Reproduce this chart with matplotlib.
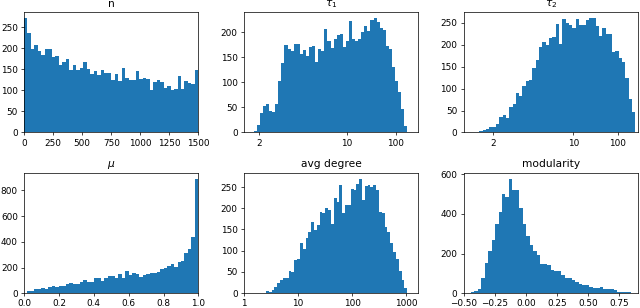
import numpy as np
import matplotlib
matplotlib.use("Agg")
from matplotlib import pyplot as plt
from matplotlib.ticker import NullLocator

# bin counts (50 bins per panel)
n_counts = [272, 237, 197, 207, 192, 183, 197, 199, 178, 182,
            160, 167, 175, 149, 161, 148, 152, 166, 151, 138,
            145, 137, 149, 140, 141, 124, 139, 121, 153, 130,
            124, 124, 146, 126, 130, 127, 100, 119, 125, 120,
            105, 111, 100, 104, 135, 104, 122, 118, 114, 147]
n_range = (0, 1500)

tau1_counts = [2, 14, 38, 52, 56, 43, 40, 57, 102, 138,
               175, 167, 163, 177, 177, 157, 165, 152, 170, 172,
               141, 167, 163, 207, 182, 168, 186, 195, 197, 171,
               183, 222, 187, 182, 187, 200, 212, 203, 224, 229,
               220, 208, 204, 172, 167, 131, 102, 80, 47, 13]
tau1_range = (1.876, 418)

tau2_counts = [1, 2, 2, 4, 5, 7, 13, 13, 20, 36,
               40, 32, 58, 66, 90, 83, 105, 117, 119, 148,
               165, 196, 207, 200, 215, 219, 248, 203, 260, 250,
               245, 238, 259, 246, 246, 256, 261, 262, 243, 220,
               239, 224, 226, 184, 186, 171, 162, 125, 76, 47]
tau2_range = (1.469, 5570)

mu_counts = [5, 18, 18, 31, 36, 42, 29, 52, 55, 50,
             55, 60, 73, 81, 68, 70, 89, 104, 89, 89,
             117, 115, 99, 122, 133, 135, 115, 148, 122, 172,
             143, 154, 148, 128, 143, 146, 156, 156, 169, 185,
             195, 211, 227, 203, 242, 247, 315, 346, 435, 893]
mu_range = (0, 1)

deg_counts = [5, 4, 8, 15, 24, 30, 35, 36, 53, 51,
              78, 80, 118, 103, 130, 143, 168, 148, 161, 191,
              190, 200, 196, 163, 225, 215, 255, 190, 207, 207,
              246, 244, 258, 270, 220, 253, 255, 249, 254, 242,
              191, 190, 157, 145, 118, 97, 80, 52, 30, 13]
deg_range = (2.57, 1033)

mod_counts = [2, 3, 5, 10, 20, 76, 152, 212, 270, 351,
              408, 502, 485, 578, 520, 520, 429, 349, 286, 242,
              212, 192, 146, 146, 141, 119, 110, 110, 90, 78,
              76, 69, 56, 46, 39, 39, 29, 24, 27, 31,
              22, 19, 20, 14, 7, 5, 5, 5, 3, 3]
mod_range = (-0.5, 0.9)


def fwd(t):
    t = np.asarray(t, dtype=float)
    with np.errstate(all='ignore'):
        return -np.power(t, -0.5)


def inv(u):
    u = np.asarray(u, dtype=float)
    with np.errstate(all='ignore'):
        return np.power(-u, -2.0)


def draw(ax, counts, edges, title):
    ax.hist(edges[:-1], bins=edges, weights=counts, color='#1f77b4')
    ax.set_title(title, fontsize=12)


fig, axes = plt.subplots(2, 3, figsize=(10, 4.8125), dpi=64)
fig.subplots_adjust(left=0.0375, right=0.997, top=0.961, bottom=0.048,
                    wspace=0.26, hspace=0.335)

ax = axes[0, 0]
draw(ax, n_counts, np.linspace(*n_range, 51), 'n')
ax.set_xlim(n_range)
ax.set_xticks([0, 250, 500, 750, 1000, 1250, 1500])

for ax, counts, rng, left, title in [
        (axes[0, 1], tau1_counts, tau1_range, 1.669, r'$\tau_1$'),
        (axes[0, 2], tau2_counts, tau2_range, 1.374, r'$\tau_2$')]:
    ax.set_xscale('function', functions=(fwd, inv))
    edges = inv(np.linspace(fwd(rng[0]), fwd(rng[1]), 51))
    draw(ax, counts, edges, title)
    ax.set_xlim(left, 1e7)
    ax.set_xticks([2, 10, 100], ['2', '10', '100'])
    ax.xaxis.set_minor_locator(NullLocator())

ax = axes[1, 0]
draw(ax, mu_counts, np.linspace(*mu_range, 51), r'$\mu$')
ax.set_xlim(mu_range)
ax.set_xticks([0.0, 0.2, 0.4, 0.6, 0.8, 1.0])

ax = axes[1, 1]
ax.set_xscale('log')
draw(ax, deg_counts, np.geomspace(*deg_range, 51), 'avg degree')
ax.set_xlim(1, 1655)
ax.set_xticks([1, 10, 100, 1000], ['1', '10', '100', '1000'])
ax.xaxis.set_minor_locator(NullLocator())

ax = axes[1, 2]
draw(ax, mod_counts, np.linspace(*mod_range, 51), 'modularity')
ax.set_xlim(mod_range)
ax.set_xticks([-0.5, -0.25, 0.0, 0.25, 0.5, 0.75])

fig.savefig('out.png', dpi=64)
